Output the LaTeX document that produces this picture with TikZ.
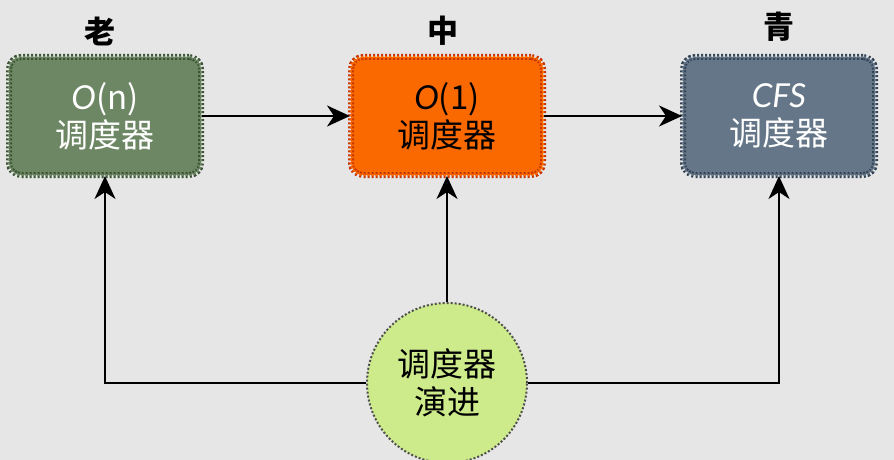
\documentclass[tikz,border=0pt]{standalone}
\usepackage{fontspec}
\setmainfont{Noto Sans CJK SC}
\newfontfamily\latinf{Lato}
\usetikzlibrary{arrows.meta}
\definecolor{bg}{HTML}{E6E6E6}
\definecolor{gfill}{HTML}{6D8764}
\definecolor{gline}{HTML}{3A5431}
\definecolor{ofill}{HTML}{FA6800}
\definecolor{oline}{HTML}{C73500}
\definecolor{bfill}{HTML}{647687}
\definecolor{bline}{HTML}{314354}
\definecolor{cfill}{HTML}{CDEB8B}
\definecolor{cline}{HTML}{4E4E4E}
\tikzset{
  box/.style={rectangle, rounded corners=12pt, minimum width=192pt, minimum height=118pt,
    line width=2pt, dash pattern=on 2pt off 2pt, double distance=2pt, align=center, inner sep=0pt,
    font=\fontsize{33}{38}\selectfont},
  evo/.style={circle, minimum size=160pt, fill=cfill, draw=cline, line width=2pt,
    dash pattern=on 2pt off 2pt,
    align=center, inner sep=0pt, font=\fontsize{33}{38}\selectfont},
  lbl/.style={font=\fontsize{31}{34}\selectfont\bfseries, inner sep=0pt},
  arr/.style={line width=2.2pt, -{Stealth[length=23pt,width=21pt,inset=7pt]}}
}
\begin{document}
\begin{tikzpicture}[x=1pt,y=-1pt]
\fill[bg] (0,0) rectangle (894,460);
\useasboundingbox (0,0) rectangle (894,460);
\node[box, fill=gfill, draw=gline, double=gfill, text=white] (old) at (105,116)
  {{\latinf\itshape O}(n)\\调度器};
\node[box, fill=ofill, draw=oline, double=ofill, text=black] (mid) at (447,116)
  {{\latinf\itshape O}(1)\\调度器};
\node[box, fill=bfill, draw=bline, double=bfill, text=white] (new) at (779,116)
  {{\latinf\itshape CFS}\\调度器};
\node[evo] (ev) at (447,383) {调度器\\演进};
\node[lbl] (l1) at (100,31) {老};
\node[lbl] (l2) at (443,31) {中};
\node[lbl] (l3) at (779,27) {青};
\draw[arr] (old.east) -- (mid.west);
\draw[arr] (mid.east) -- (new.west);
\draw[arr] (ev.north) -- (mid.south);
\draw[arr] (ev.west) -| (old.south);
\draw[arr] (ev.east) -| (new.south);
\end{tikzpicture}
\end{document}
